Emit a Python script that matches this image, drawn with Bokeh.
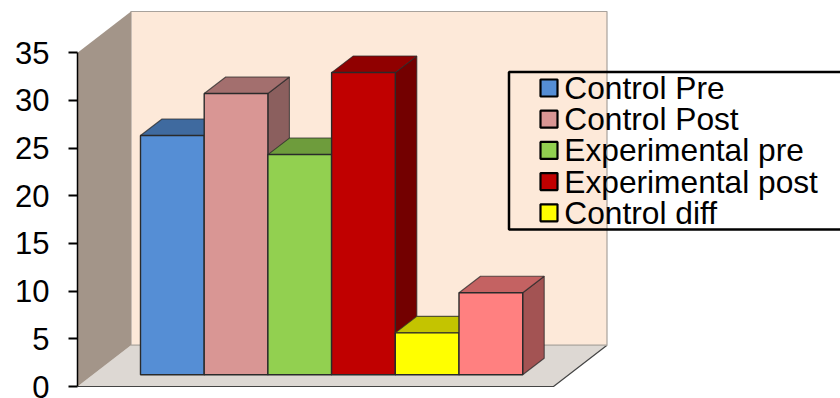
from bokeh.core.properties import value
from bokeh.embed import file_html
from bokeh.models import FixedTicker, Range1d
from bokeh.plotting import figure
from bokeh.resources import INLINE

# Series
series_names = ["Control Pre", "Control Post", "Experimental pre", "Experimental post", "Control diff"]
series_values = [25.1, 29.5, 23.1, 31.7, 4.4, 8.6]
y_ticks = [0, 5, 10, 15, 20, 25, 30, 35]

front_colors = ["#558ED5", "#D99694", "#92D050", "#C00000", "#FFFF00", "#FF8080"]
top_colors = ["#3F6A9F", "#A36F6E", "#6E9C3C", "#900000", "#C4C400", "#C46262"]
side_colors = ["#335580", "#8B5F5E", "#587D30", "#730000", "#9D9D00", "#A35353"]

# Scene geometry in axis units (x: one bar slot, y: value units)
UNIT_X = 63.7
UNIT_Y = 9.534
WALL_DX, WALL_DY = 53.5 / UNIT_X, 41.3 / UNIT_Y
BAR_DX, BAR_DY = 21.5 / UNIT_X, 16.5 / UNIT_Y
BAR_BASE = 11.7 / UNIT_Y
FLOOR_LEFT = -63 / UNIT_X
FLOOR_RIGHT = 413 / UNIT_X
AXIS_TOP = y_ticks[-1]
LEFT, HEIGHT, WIDTH = 77, 398, 840
Y_START = -12 / UNIT_Y


def from_left(px):
    """Horizontal page position expressed in bar slots."""
    return FLOOR_LEFT + (px - LEFT) / UNIT_X


def from_top(px):
    """Vertical page position expressed in value units."""
    return Y_START + (HEIGHT - px) / UNIT_Y


p = figure(
    width=WIDTH,
    height=HEIGHT,
    output_backend="svg",
    toolbar_location=None,
    min_border_left=LEFT,
    min_border_right=0,
    min_border_top=0,
    min_border_bottom=0,
    x_axis_location=None,
    outline_line_color=None,
    background_fill_color="white",
    border_fill_color="white",
)
p.x_range = Range1d(FLOOR_LEFT, from_left(WIDTH))
p.y_range = Range1d(Y_START, from_top(0))
p.grid.visible = False

axis = p.yaxis[0]
axis.ticker = FixedTicker(ticks=y_ticks)
axis.bounds = (0, AXIS_TOP)
axis.axis_line_color = "#000000"
axis.axis_line_width = 1.5
axis.major_tick_line_color = "#000000"
axis.major_tick_line_width = 2
axis.major_tick_in = 0
axis.major_tick_out = 9
axis.minor_tick_line_color = None
axis.major_label_standoff = 19
axis.major_label_text_font = "Liberation Sans"
axis.major_label_text_font_size = "31px"
axis.major_label_text_color = "#000000"

# Floor, side wall and back wall
wall_right = FLOOR_RIGHT + WALL_DX
wall_left = FLOOR_LEFT + WALL_DX
p.patch(
    [FLOOR_LEFT, wall_left, wall_right, FLOOR_RIGHT],
    [0, WALL_DY, WALL_DY, 0],
    fill_color="#DDD8D3",
    line_color=None,
)
p.line([FLOOR_LEFT, FLOOR_RIGHT, wall_right], [0, 0, WALL_DY], line_color="#444444", line_width=1.2)
p.patch(
    [wall_left, wall_right, wall_right, wall_left],
    [WALL_DY, WALL_DY, AXIS_TOP + WALL_DY, AXIS_TOP + WALL_DY],
    fill_color="#FDE9D9",
    line_color="#A8A29C",
    line_width=1.2,
)
p.patch(
    [FLOOR_LEFT, wall_left, wall_left, FLOOR_LEFT],
    [0, WALL_DY, AXIS_TOP + WALL_DY, AXIS_TOP],
    fill_color="#A39589",
    line_color=None,
)

# Boxes, left to right, so each one covers the side of its neighbour
EDGE = "#2A2A2A"
for i, v in enumerate(series_values):
    top = BAR_BASE + v
    x0, x1 = i, i + 1
    p.patch(
        [x1, x1 + BAR_DX, x1 + BAR_DX, x1],
        [BAR_BASE, BAR_BASE + BAR_DY, top + BAR_DY, top],
        fill_color=side_colors[i],
        line_color=EDGE,
        line_width=1.1,
        line_alpha=0.75,
    )
    p.patch(
        [x0, x1, x1 + BAR_DX, x0 + BAR_DX],
        [top, top, top + BAR_DY, top + BAR_DY],
        fill_color=top_colors[i],
        line_color=EDGE,
        line_width=1.1,
        line_alpha=0.75,
    )
    p.quad(
        left=[x0],
        right=[x1],
        bottom=[BAR_BASE],
        top=[top],
        fill_color=front_colors[i],
        line_color=EDGE,
        line_width=1.4,
    )

# Legend frame, open on the right where it runs off the page
frame_l, frame_t, frame_b = from_left(508.5), from_top(71.5), from_top(229)
frame_r = from_left(WIDTH + 10)
p.line(
    [frame_r, frame_l, frame_l, frame_r],
    [frame_t, frame_t, frame_b, frame_b],
    line_color="#000000",
    line_width=2.5,
)

# Legend rows: a swatch with a heavy outline beside its series name
ROW_PITCH = 31.2
for row, (name, color) in enumerate(zip(series_names, front_colors)):
    centre = 87.5 + row * ROW_PITCH
    p.quad(
        left=[from_left(540)],
        right=[from_left(557)],
        top=[from_top(centre - 8.5)],
        bottom=[from_top(centre + 8.5)],
        fill_color=color,
        line_color="#000000",
        line_width=2.2,
    )
    p.text(
        x=[from_left(563.8)],
        y=[from_top(centre)],
        text=[name],
        text_font=value("Liberation Sans"),
        text_font_size="31.7px",
        text_color="#000000",
        text_baseline="middle",
        text_align="left",
    )

open("out.html", "w").write(file_html(p, INLINE))
